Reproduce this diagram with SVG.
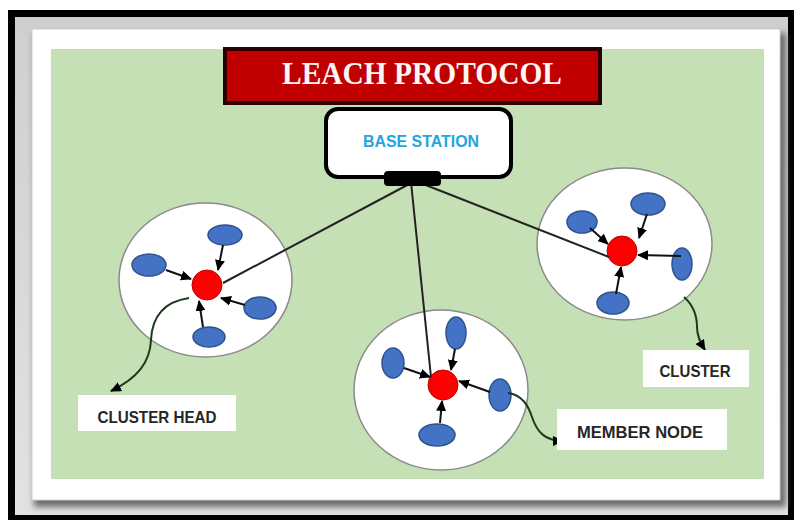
<svg xmlns="http://www.w3.org/2000/svg" width="794" height="520" viewBox="0 0 794 520">
<defs>
<style>
.cl{fill:#fff;stroke:#8a8a8a;stroke-width:1.5}
.mn{fill:#4472C4;stroke:#2F528F;stroke-width:1.5}
.ch{fill:#FF0000;stroke:#C00000;stroke-width:1}
.ar{stroke:#111;stroke-width:2;fill:none;marker-end:url(#ah)}
.bl{stroke:#222;stroke-width:2;fill:none}
.cv{stroke:#1E3A1E;stroke-width:2;fill:none;marker-end:url(#ah)}
.lb{fill:#fff}
.lt{font-family:"Liberation Sans",Arial,sans-serif;font-weight:bold;font-size:16.5px;fill:#262626;text-anchor:middle}
</style>
<marker id="ah" markerUnits="userSpaceOnUse" markerWidth="11" markerHeight="10" refX="10" refY="5" orient="auto">
<path d="M0,0 L11,5 L0,10 z" fill="#000"/>
</marker>
<linearGradient id="bev" x1="0" y1="0" x2="0" y2="1">
<stop offset="0" stop-color="#cfcfcf"/>
<stop offset="1" stop-color="#e2e2e2"/>
</linearGradient>
<filter id="sh" x="-5%" y="-5%" width="110%" height="115%">
<feGaussianBlur stdDeviation="3"/>
</filter>
</defs>
<rect x="0" y="0" width="794" height="520" fill="#fff"/>
<rect x="8" y="10" width="786" height="510" fill="#000"/>
<rect x="15" y="17" width="773" height="498" fill="url(#bev)"/>
<rect x="34" y="33" width="752" height="474" fill="#6a6a6a" filter="url(#sh)"/>
<rect x="32" y="29" width="748" height="471" fill="#fff" stroke="#d0d0d0" stroke-width="1"/>
<rect x="51" y="49" width="713" height="430" fill="#C5E0B4"/>

<g id="title">
<rect x="225" y="49" width="375" height="54" fill="#C00000" stroke="#2a0000" stroke-width="4"/>
<text x="422" y="84" font-family="'Liberation Serif','Times New Roman',serif" font-weight="bold" font-size="31" fill="#fff5f5" text-anchor="middle" textLength="280" lengthAdjust="spacingAndGlyphs">LEACH PROTOCOL</text>
</g>

<g id="base-station">
<rect x="326" y="109" width="185" height="68" rx="12" fill="#fff" stroke="#000" stroke-width="4"/>
<text x="421" y="147" font-family="'Liberation Sans',Arial,sans-serif" font-weight="bold" font-size="16" fill="#22A5E0" text-anchor="middle" textLength="116" lengthAdjust="spacingAndGlyphs">BASE STATION</text>
</g>

<g id="cluster-left">
<ellipse class="cl" cx="205.5" cy="280" rx="86.5" ry="77"/>
<ellipse class="mn" cx="149" cy="265" rx="17" ry="11"/>
<ellipse class="mn" cx="225" cy="235" rx="17" ry="10"/>
<ellipse class="mn" cx="260" cy="308" rx="16" ry="11"/>
<ellipse class="mn" cx="209" cy="337" rx="16" ry="10"/>
<line class="ar" x1="166" y1="270" x2="191" y2="279"/>
<line class="ar" x1="223" y1="245" x2="218" y2="270"/>
<line class="ar" x1="245" y1="305" x2="221" y2="298"/>
<line class="ar" x1="203" y1="327" x2="199" y2="301"/>
<circle class="ch" cx="207" cy="285" r="15"/>
</g>

<g id="cluster-middle">
<ellipse class="cl" cx="441" cy="390" rx="87" ry="80"/>
<ellipse class="mn" cx="393" cy="363" rx="11" ry="15"/>
<ellipse class="mn" cx="456" cy="333" rx="10" ry="16"/>
<ellipse class="mn" cx="500" cy="395" rx="11" ry="16"/>
<ellipse class="mn" cx="437" cy="435" rx="18" ry="11"/>
<line class="ar" x1="404" y1="368" x2="430" y2="377"/>
<line class="ar" x1="455" y1="349" x2="451" y2="370"/>
<line class="ar" x1="490" y1="392" x2="459" y2="381"/>
<line class="ar" x1="440" y1="423" x2="442" y2="401"/>
<circle class="ch" cx="443" cy="385" r="15"/>
</g>

<g id="cluster-right">
<ellipse class="cl" cx="624.5" cy="244" rx="87.5" ry="76"/>
<ellipse class="mn" cx="582" cy="222" rx="15" ry="11"/>
<ellipse class="mn" cx="648" cy="204" rx="17" ry="11"/>
<ellipse class="mn" cx="682" cy="264" rx="10" ry="16"/>
<ellipse class="mn" cx="613" cy="303" rx="16" ry="11"/>
<line class="ar" x1="590" y1="228" x2="608" y2="244"/>
<line class="ar" x1="647" y1="214" x2="639" y2="238"/>
<line class="ar" x1="681" y1="256" x2="638" y2="255"/>
<line class="ar" x1="616" y1="294" x2="621" y2="267"/>
<circle class="ch" cx="622" cy="251" r="15"/>
</g>

<g id="connectors">
<line class="bl" x1="413" y1="182" x2="223" y2="283"/>
<line class="bl" x1="411" y1="182" x2="431" y2="377"/>
<line class="bl" x1="418" y1="182" x2="609" y2="257"/>
<path class="cv" d="M189,298 C162,302 152,318 151,340 C150,362 138,378 111,391"/>
<path class="cv" d="M508,393 C522,395 528,405 532,417 C537,432 545,441 563,441"/>
<path class="cv" d="M684,297 C693,305 697,315 697,327 C697,336 700,342 705,350"/>
</g>

<g id="base-connector">
<rect x="384" y="171" width="57" height="15" rx="4" fill="#000"/>
</g>

<g id="label-cluster-head">
<rect class="lb" x="78" y="395" width="158" height="36"/>
<text class="lt" x="157" y="423" textLength="119" lengthAdjust="spacingAndGlyphs">CLUSTER HEAD</text>
</g>
<g id="label-cluster">
<rect class="lb" x="643" y="350" width="106" height="37"/>
<text class="lt" x="695" y="377" textLength="71" lengthAdjust="spacingAndGlyphs">CLUSTER</text>
</g>
<g id="label-member-node">
<rect class="lb" x="557" y="409" width="170" height="41"/>
<text class="lt" x="640" y="438" textLength="126" lengthAdjust="spacingAndGlyphs">MEMBER NODE</text>
</g>
</svg>
